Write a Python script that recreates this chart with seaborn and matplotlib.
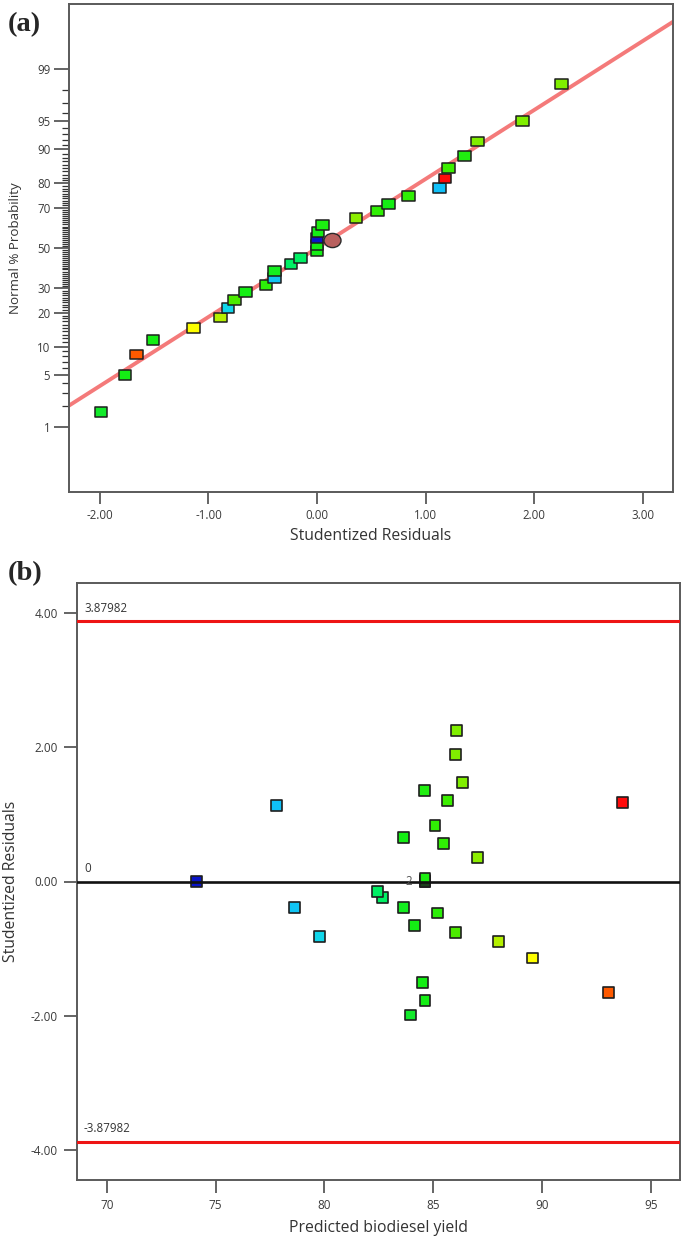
import matplotlib
matplotlib.use("Agg")
import matplotlib.pyplot as plt
import matplotlib.ticker as mticker
from matplotlib.path import Path
import seaborn as sns
import numpy as np
import pandas as pd
from statistics import NormalDist

# ---------------- data ----------------
residuals = [-1.99, -1.77, -1.66, -1.51, -1.14, -0.89, -0.82, -0.76, -0.66, -0.47,
             -0.39, -0.39, -0.24, -0.15, 0.00, 0.00, 0.00, 0.01, 0.05, 0.36,
             0.56, 0.66, 0.84, 1.13, 1.18, 1.21, 1.36, 1.48, 1.89, 2.25]
normal_prob = [1.67, 5.00, 8.33, 11.67, 15.00, 18.33, 21.67, 25.00, 28.33, 31.67,
               35.00, 38.33, 41.67, 45.00, 48.33, 51.67, 55.00, 58.33, 61.67, 65.00,
               68.33, 71.67, 75.00, 78.33, 81.67, 85.00, 88.33, 91.67, 95.00, 98.33]
predicted = [83.97, 84.63, 93.05, 84.52, 89.55, 88.01, 79.80, 86.04, 84.14, 85.19,
             78.65, 83.66, 82.67, 82.45, 84.63, 84.63, 74.14, 84.63, 84.63, 87.05,
             85.47, 83.66, 85.09, 77.81, 93.71, 85.66, 84.60, 86.34, 86.04, 86.08]
point_colors = ['#12ea2a', '#14ee14', '#ff5a00', '#14ee14', '#ffff00', '#b4f000',
                '#10d6ea', '#4cea00', '#14ee14', '#2cee08', '#10c4f4', '#14ee20',
                '#00f064', '#00f064', '#14ee14', '#14ee14', '#0a14c8', '#14ee14',
                '#1cee10', '#8cee00', '#30ee04', '#14ee14', '#30ee04', '#10c0f8',
                '#ff0a0a', '#3cee00', '#20ee10', '#80ee00', '#80ee00', '#80ee00']

mean_point = (0.135, 54.1)          # brown marker on panel (a)
fit_slope, fit_intercept = 0.896, 0.0   # reference line in probit space
limit_value = 3.87982
overlap_label = (83.9, 0.0, "2")

prob_major = [1, 5, 10, 20, 30, 50, 70, 80, 90, 95, 99]
prob_minor = [p for p in range(2, 99) if p not in prob_major]
resid_ticks_a = [-2, -1, 0, 1, 2, 3]
resid_ticks_b = [-4, -2, 0, 2, 4]
yield_ticks = [70, 75, 80, 85, 90, 95]

df = pd.DataFrame({"resid": residuals, "prob": normal_prob, "pred": predicted,
                   "pid": [f"p{i}" for i in range(len(residuals))]})
palette = dict(zip(df["pid"], point_colors))

# ---------------- style ----------------
sns.set_theme(style="white")
plt.rcParams["font.family"] = ["Open Sans", "DejaVu Sans"]
TICK_C = "#3a3a3a"
SPINE_C = "#5a5a5a"

ND = NormalDist()
_probit = np.vectorize(lambda p: ND.inv_cdf(min(max(p / 100.0, 1e-9), 1 - 1e-9)), otypes=[float])
_cdf = np.vectorize(lambda z: 100.0 * ND.cdf(z), otypes=[float])

fig = plt.figure(figsize=(6.85, 12.45), dpi=100)
H, W = 1245.0, 685.0
ax_a = fig.add_axes([69 / W, 1 - 492 / H, (673 - 69) / W, (492 - 4) / H])
ax_b = fig.add_axes([76.7 / W, 1 - 1180 / H, (680 - 76.7) / W, (1180 - 583) / H])

rect_marker = Path([(-1.3, -1), (1.3, -1), (1.3, 1), (-1.3, 1), (-1.3, -1)],
                   [Path.MOVETO, Path.LINETO, Path.LINETO, Path.LINETO, Path.CLOSEPOLY])
uc = Path.unit_circle()
ellipse_marker = Path(uc.vertices * np.array([1.2, 1.0]), uc.codes)

# ---------------- panel (a) ----------------
ax = ax_a
ax.set_yscale("function", functions=(_probit, _cdf))
xlim_a = (-2.285, 3.28)
ax.set_xlim(*xlim_a)
ax.set_ylim(float(_cdf(-3.17)), float(_cdf(3.17)))

xs = np.linspace(xlim_a[0], xlim_a[1], 200)
sns.lineplot(x=xs, y=_cdf(fit_intercept + fit_slope * xs), ax=ax,
             color="#f47a7a", linewidth=2.8, zorder=2, legend=False)
sns.scatterplot(data=df, x="resid", y="prob", hue="pid", palette=palette,
                marker=rect_marker, s=84, edgecolor="#1e1e1e", linewidth=1.1,
                legend=False, ax=ax, zorder=3)
sns.scatterplot(x=[mean_point[0]], y=[mean_point[1]], marker=ellipse_marker, s=150,
                color="#b8605e", edgecolor="#2a2a2a", linewidth=1.0, ax=ax,
                zorder=4, legend=False)

ax.set_xticks(resid_ticks_a)
ax.xaxis.set_major_formatter(mticker.FormatStrFormatter("%.2f"))
ax.yaxis.set_major_locator(mticker.FixedLocator(prob_major))
ax.yaxis.set_minor_locator(mticker.FixedLocator(prob_minor))
ax.yaxis.set_major_formatter(mticker.FixedFormatter([str(p) for p in prob_major]))
ax.yaxis.set_minor_formatter(mticker.NullFormatter())
ax.tick_params(axis="y", which="major", length=10.5, width=1.1, color=TICK_C,
               labelsize=8.3, labelcolor=TICK_C, pad=3, left=True)
ax.tick_params(axis="y", which="minor", length=5, width=0.9, color="#333333", left=True)
ax.tick_params(axis="x", which="major", length=8.5, width=1.1, color=TICK_C,
               labelsize=8.3, labelcolor=TICK_C, pad=4, bottom=True)
ax.set_xlabel("Studentized Residuals", fontsize=11.3, color="#333333")
ax.set_ylabel("Normal % Probability", fontsize=9.6, color="#333333")
ax.xaxis.set_label_coords(0.5, -0.074)
ax.yaxis.set_label_coords(-0.078, 0.5)

# ---------------- panel (b) ----------------
ax = ax_b
ax.set_xlim(68.62, 96.35)
ax.set_ylim(-4.45, 4.45)
sns.scatterplot(data=df, x="pred", y="resid", hue="pid", palette=palette,
                marker="s", s=62, edgecolor="#1e1e1e", linewidth=1.2,
                legend=False, ax=ax, zorder=3)
ax.axhline(limit_value, color="#ee1414", linewidth=2.2, zorder=4)
ax.axhline(-limit_value, color="#ee1414", linewidth=2.2, zorder=4)
ax.axhline(0.0, color="#111111", linewidth=1.9, zorder=4)
trans = ax.get_yaxis_transform()
ax.text(0.012, limit_value + 0.1, f"{limit_value:.5f}", transform=trans,
        fontsize=8.3, color="#333333", ha="left", va="bottom")
ax.text(0.012, -limit_value + 0.1, f"{-limit_value:.5f}", transform=trans,
        fontsize=8.3, color="#333333", ha="left", va="bottom")
ax.text(0.012, 0.1, "0", transform=trans, fontsize=8.3, color="#333333",
        ha="left", va="bottom")
ax.text(overlap_label[0], overlap_label[1], overlap_label[2], fontsize=8.3,
        color="#555555", ha="center", va="center", zorder=5)

ax.set_xticks(yield_ticks)
ax.set_yticks(resid_ticks_b)
ax.yaxis.set_major_formatter(mticker.FormatStrFormatter("%.2f"))
ax.tick_params(axis="both", which="major", length=9.5, width=1.1, color=TICK_C,
               labelsize=8.5, labelcolor=TICK_C, pad=4, left=True, bottom=True)
ax.set_xlabel("Predicted biodiesel yield", fontsize=11.3, color="#333333")
ax.set_ylabel("Studentized Residuals", fontsize=11.3, color="#333333")
ax.xaxis.set_label_coords(0.5, -0.067)
ax.yaxis.set_label_coords(-0.096, 0.5)

for a in (ax_a, ax_b):
    for sp in a.spines.values():
        sp.set_visible(True)
        sp.set_color(SPINE_C)
        sp.set_linewidth(1.4)

fig.text(8 / W, 1 - 24.5 / H, "(a)", fontsize=20.5, fontweight="bold",
         family="Liberation Serif", ha="left", va="center")
fig.text(8 / W, 1 - 573.5 / H, "(b)", fontsize=20.5, fontweight="bold",
         family="Liberation Serif", ha="left", va="center")

fig.savefig("out.png", dpi=100)
